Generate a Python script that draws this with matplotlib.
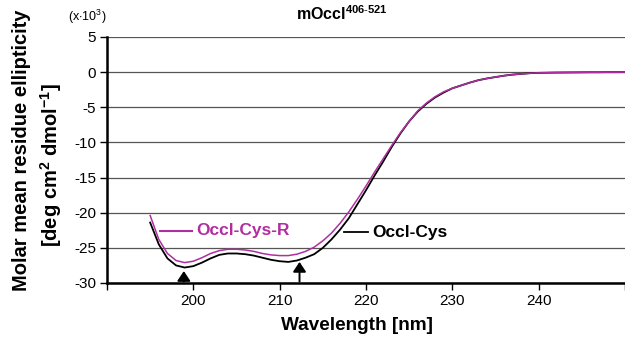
import matplotlib
matplotlib.use("Agg")
import matplotlib.pyplot as plt

plt.rcParams['font.family'] = ['Liberation Sans', 'DejaVu Sans']
plt.rcParams['mathtext.fontset'] = 'custom'
plt.rcParams['mathtext.rm'] = 'Liberation Sans'
plt.rcParams['mathtext.bf'] = 'Liberation Sans:bold'

wavelength = list(range(195, 251))
occl_cys = [-21.4, -24.5, -26.5, -27.5, -27.8, -27.6, -27.1, -26.5, -26.0, -25.8,
            -25.8, -25.9, -26.1, -26.4, -26.7, -26.9, -27.0, -26.8, -26.4, -25.9,
            -25.0, -23.8, -22.4, -20.8, -18.8, -16.8, -14.7, -12.7, -10.6, -8.7,
            -7.0, -5.6, -4.5, -3.6, -2.9, -2.3, -1.9, -1.5, -1.15, -0.9,
            -0.7, -0.5, -0.35, -0.25, -0.15, -0.1, -0.08, -0.06, -0.05, -0.04,
            -0.03, -0.02, -0.02, -0.01, -0.01, 0.0]
occl_cys_r = [-20.4, -23.8, -25.8, -26.8, -27.1, -26.9, -26.4, -25.8, -25.4, -25.2,
              -25.2, -25.3, -25.5, -25.8, -26.0, -26.1, -26.1, -25.9, -25.5, -24.9,
              -24.0, -22.9, -21.5, -19.9, -18.1, -16.2, -14.2, -12.3, -10.4, -8.6,
              -7.0, -5.5, -4.4, -3.5, -2.8, -2.3, -1.9, -1.5, -1.15, -0.9,
              -0.7, -0.5, -0.35, -0.25, -0.15, -0.1, -0.08, -0.06, -0.05, -0.04,
              -0.03, -0.02, -0.02, -0.01, -0.01, 0.0]
yticks = [5, 0, -5, -10, -15, -20, -25, -30]
xticks = [190, 200, 210, 220, 230, 240, 250]
xticklabels = ['', '200', '210', '220', '230', '240', '']
arrow_x = [198.9, 212.3]
arrow_tip = [-28.3, -27.0]

MAG = '#B02FA0'

fig = plt.figure(figsize=(6.25, 3.48), dpi=100)
ax = fig.add_axes([107/625, 1-283/348, 1-107/625, (283-37)/348])
ax.set_xlim(190, 250)
ax.set_ylim(-30, 5)

for y in yticks:
    ax.axhline(y, color='#555555', lw=0.9, zorder=0)

ax.plot(wavelength, occl_cys, color='black', lw=1.3, zorder=3)
ax.plot(wavelength, occl_cys_r, color=MAG, lw=1.1, zorder=4)

for xa, yt in zip(arrow_x, arrow_tip):
    ax.annotate('', xy=(xa, yt), xytext=(xa, -29.8),
                arrowprops=dict(arrowstyle='-|>,head_length=0.45,head_width=0.3',
                                color='black', lw=1.4,
                                mutation_scale=13, shrinkA=0, shrinkB=0))

for s in ['top', 'right']:
    ax.spines[s].set_visible(False)
ax.spines['left'].set_linewidth(1.8)
ax.spines['bottom'].set_linewidth(1.8)
ax.set_yticks(yticks)
ax.set_yticklabels([str(v) for v in yticks], fontsize=11)
ax.set_xticks(xticks)
ax.set_xticklabels(xticklabels, fontsize=11)
ax.tick_params(axis='both', direction='out', length=5, width=1, pad=3)

# inline legend labels
ax.plot([196.1, 199.9], [-22.6, -22.6], color=MAG, lw=1.5)
ax.text(200.3, -22.6, 'Occl-Cys-R', color=MAG, fontsize=12.5, fontweight='bold', va='center')
ax.plot([217.5, 220.2], [-22.8, -22.8], color='black', lw=1.3)
ax.text(220.7, -22.8, 'Occl-Cys', color='black', fontsize=12.5, fontweight='bold', va='center')

fig.text(296/625, 1-20/348, r'mOccl$^{\mathbf{406\text{-}521}}$', fontsize=11.5,
         fontweight='bold', ha='left', va='baseline')
fig.text(68/625, 1-21/348, r'(x$\cdot$10$^3$)', fontsize=9, ha='left', va='baseline')
fig.text(357/625, 1-325/348, 'Wavelength [nm]', fontsize=13.7, fontweight='bold',
         ha='center', va='center')
fig.text(22/625, 1-150/348, 'Molar mean residue ellipticity', fontsize=14.5,
         fontweight='bold', rotation=90, ha='center', va='center')
fig.text(51/625, 1-165/348, r'[deg cm$^{\mathbf{2}}$ dmol$^{\mathbf{-1}}$]', fontsize=14.5,
         fontweight='bold', rotation=90, ha='center', va='center')

fig.savefig('out.png', dpi=100)
